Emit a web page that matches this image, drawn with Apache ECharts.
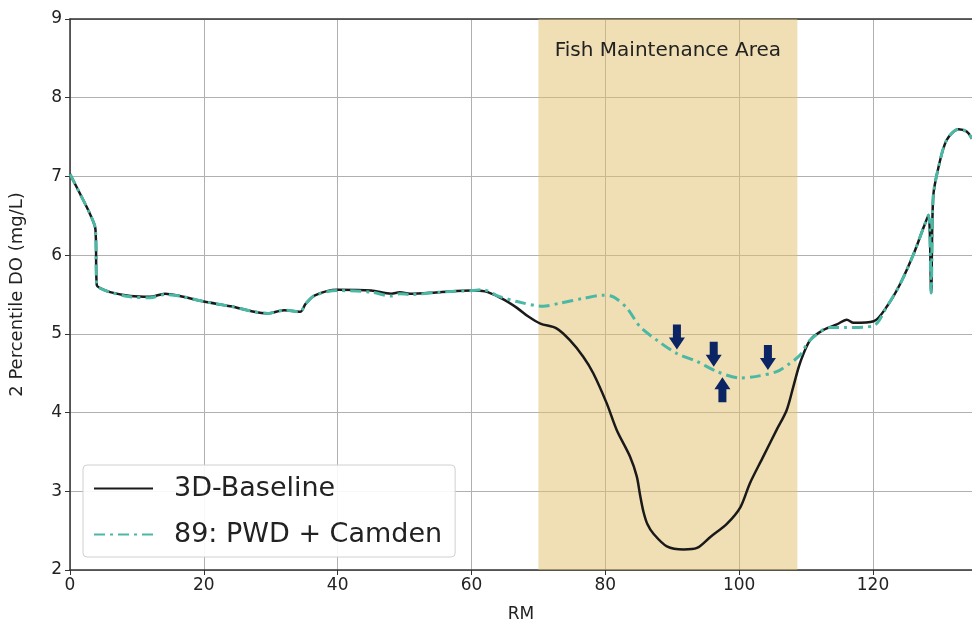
<!DOCTYPE html>
<html>
<head>
<meta charset="utf-8">
<script src="https://cdn.jsdelivr.net/npm/echarts@6/dist/echarts.min.js"></script>
<style>
  html, body { margin: 0; padding: 0; background: #fff; }
  #chart { width: 972px; height: 631px; }
</style>
</head>
<body>
<div id="chart"></div>
<script>
// river mile / DO values
const rmBase = [0, 1.5, 3, 3.8, 4.0, 4.5, 6, 9, 12, 14.2, 16.4, 20, 24, 27, 29.6, 32, 34.4, 35.2, 36.6, 40, 45, 48, 49.3, 50.8, 55.3, 60, 62, 64.5, 66.8, 68.5, 70.3, 72.7, 74.7, 76.7, 78.2, 80.2, 81.7, 83.7, 84.7, 85.2, 85.7, 86.3, 87.2, 89.2, 91.7, 93.7, 95.7, 98.2, 100.2, 101.6, 103.6, 105.6, 107.1, 108.1, 109.1, 110.6, 112.6, 114.6, 116.1, 117.1, 120.1, 122.1, 124.1, 126.1, 127.6, 128.3, 128.7, 129.0, 129.8, 131.0, 132.8, 134.0, 134.8];
const doBase = [7.03, 6.78, 6.52, 6.33, 5.62, 5.58, 5.53, 5.48, 5.47, 5.51, 5.48, 5.41, 5.35, 5.29, 5.26, 5.30, 5.28, 5.38, 5.49, 5.56, 5.55, 5.51, 5.53, 5.51, 5.53, 5.55, 5.54, 5.45, 5.33, 5.22, 5.13, 5.07, 4.92, 4.71, 4.50, 4.12, 3.78, 3.44, 3.19, 2.95, 2.74, 2.58, 2.46, 2.30, 2.26, 2.28, 2.42, 2.59, 2.80, 3.10, 3.44, 3.78, 4.03, 4.33, 4.63, 4.92, 5.05, 5.12, 5.18, 5.14, 5.16, 5.35, 5.64, 6.02, 6.36, 6.51, 5.52, 6.74, 7.12, 7.46, 7.60, 7.57, 7.48];

const rmAlt = [0, 1.5, 3, 3.8, 4.0, 4.5, 6, 9, 12, 14.2, 16.4, 20, 24, 27, 29.6, 32, 34.4, 35.2, 36.6, 40, 45, 48, 49.3, 50.8, 55.3, 60, 61.7, 64, 66.8, 70.7, 73.2, 76.7, 79.7, 81.2, 83.2, 85.2, 87.7, 90.7, 93.7, 96.7, 100.2, 102.6, 105.6, 107.5, 109.1, 110.6, 113.6, 116, 120, 122.1, 124.1, 126.1, 127.6, 128.3, 128.7, 129.0, 129.8, 131.0, 132.8, 134.0, 134.8];
const doAlt = [7.03, 6.78, 6.52, 6.33, 5.62, 5.58, 5.53, 5.47, 5.46, 5.50, 5.48, 5.41, 5.35, 5.29, 5.26, 5.30, 5.28, 5.38, 5.49, 5.55, 5.53, 5.48, 5.51, 5.50, 5.53, 5.55, 5.56, 5.48, 5.41, 5.35, 5.39, 5.45, 5.49, 5.47, 5.33, 5.09, 4.92, 4.75, 4.65, 4.52, 4.44, 4.46, 4.52, 4.62, 4.73, 4.92, 5.08, 5.08, 5.10, 5.35, 5.64, 6.02, 6.36, 6.51, 5.52, 6.74, 7.12, 7.46, 7.60, 7.57, 7.48];

// fish maintenance band
const bandRange = [70, 108.7];

// arrows pointing at the alternative curve
const arrowX = [90.7, 96.2, 104.3, 97.5];
const arrowY = [4.96, 4.74, 4.70, 4.29];
const arrowUp = [false, false, false, true];

const zip = (xs, ys) => xs.map((x, i) => [x, ys[i]]);
const arrowPath = 'path://M4,0 L12,0 L12,13 L16,13 L8,25 L0,13 L4,13 Z';

const chart = echarts.init(document.getElementById('chart'));
const axisColor = '#333';
const font = 'DejaVu Sans';

chart.setOption({
  animation: false,
  textStyle: { fontFamily: font },
  grid: { left: 70, right: 0, top: 19, bottom: 61 },
  legend: {
    orient: 'vertical',
    left: 83,
    top: 465,
    padding: [10, 13, 9, 10],
    itemWidth: 59,
    itemHeight: 30,
    itemGap: 19,
    backgroundColor: 'rgba(255,255,255,0.9)',
    borderColor: '#d0d0d0',
    borderWidth: 1,
    borderRadius: 4,
    itemStyle: { opacity: 0 },
    textStyle: { fontSize: 27, color: '#222', fontFamily: font, padding: [0, 0, 0, 16] },
    data: ['3D-Baseline', '89: PWD + Camden']
  },
  xAxis: [{
    type: 'value',
    min: 0,
    max: 134.8,
    interval: 20,
    name: 'RM',
    nameLocation: 'middle',
    nameGap: 36,
    nameTextStyle: { fontSize: 17, color: '#222' },
    axisLine: { show: true, lineStyle: { color: axisColor, width: 1.5 } },
    axisTick: { show: true, length: 5, lineStyle: { color: axisColor } },
    axisLabel: { fontSize: 17, color: '#222', margin: 7, showMaxLabel: false },
    splitLine: { show: true, lineStyle: { color: '#b0b0b0', width: 1 } }
  }, {
    type: 'value',
    position: 'top',
    min: 0,
    max: 134.8,
    axisLine: { show: true, lineStyle: { color: axisColor, width: 1.5 } },
    axisTick: { show: false },
    axisLabel: { show: false },
    splitLine: { show: false }
  }],
  yAxis: {
    type: 'value',
    min: 2,
    max: 9,
    interval: 1,
    name: '2 Percentile DO (mg/L)',
    nameLocation: 'middle',
    nameGap: 44,
    nameTextStyle: { fontSize: 18, color: '#222' },
    axisLine: { show: true, lineStyle: { color: axisColor, width: 1.5 } },
    axisTick: { show: true, length: 5, lineStyle: { color: axisColor } },
    axisLabel: { fontSize: 17, color: '#222', margin: 8 },
    splitLine: { show: true, lineStyle: { color: '#b0b0b0', width: 1 } }
  },
  series: [
    {
      name: '3D-Baseline',
      type: 'line',
      data: zip(rmBase, doBase),
      symbol: 'none',
      smooth: 0.3,
      lineStyle: { color: '#1a1a1a', width: 2.5 },
      itemStyle: { color: '#1a1a1a' },
      z: 3,
      markArea: {
        silent: true,
        itemStyle: { color: 'rgba(226,190,106,0.5)' },
        label: {
          show: true,
          position: 'insideTop',
          distance: 22,
          fontSize: 20,
          color: '#222',
          fontFamily: font
        },
        data: [[{ xAxis: bandRange[0], name: 'Fish Maintenance Area' }, { xAxis: bandRange[1] }]]
      }
    },
    {
      name: '89: PWD + Camden',
      type: 'line',
      data: zip(rmAlt, doAlt),
      symbol: 'none',
      smooth: 0.3,
      lineStyle: { color: '#4ab8a5', width: 3, type: [11, 5, 3, 5] },
      itemStyle: { color: '#4ab8a5' },
      z: 4
    },
    {
      name: 'arrows',
      type: 'scatter',
      data: arrowX.map((x, i) => ({
        value: [x, arrowY[i]],
        symbolRotate: arrowUp[i] ? 180 : 0
      })),
      symbol: arrowPath,
      symbolSize: [16, 25],
      itemStyle: { color: '#0b2463', opacity: 1 },
      z: 5,
      silent: true
    }
  ]
});
</script>
</body>
</html>
